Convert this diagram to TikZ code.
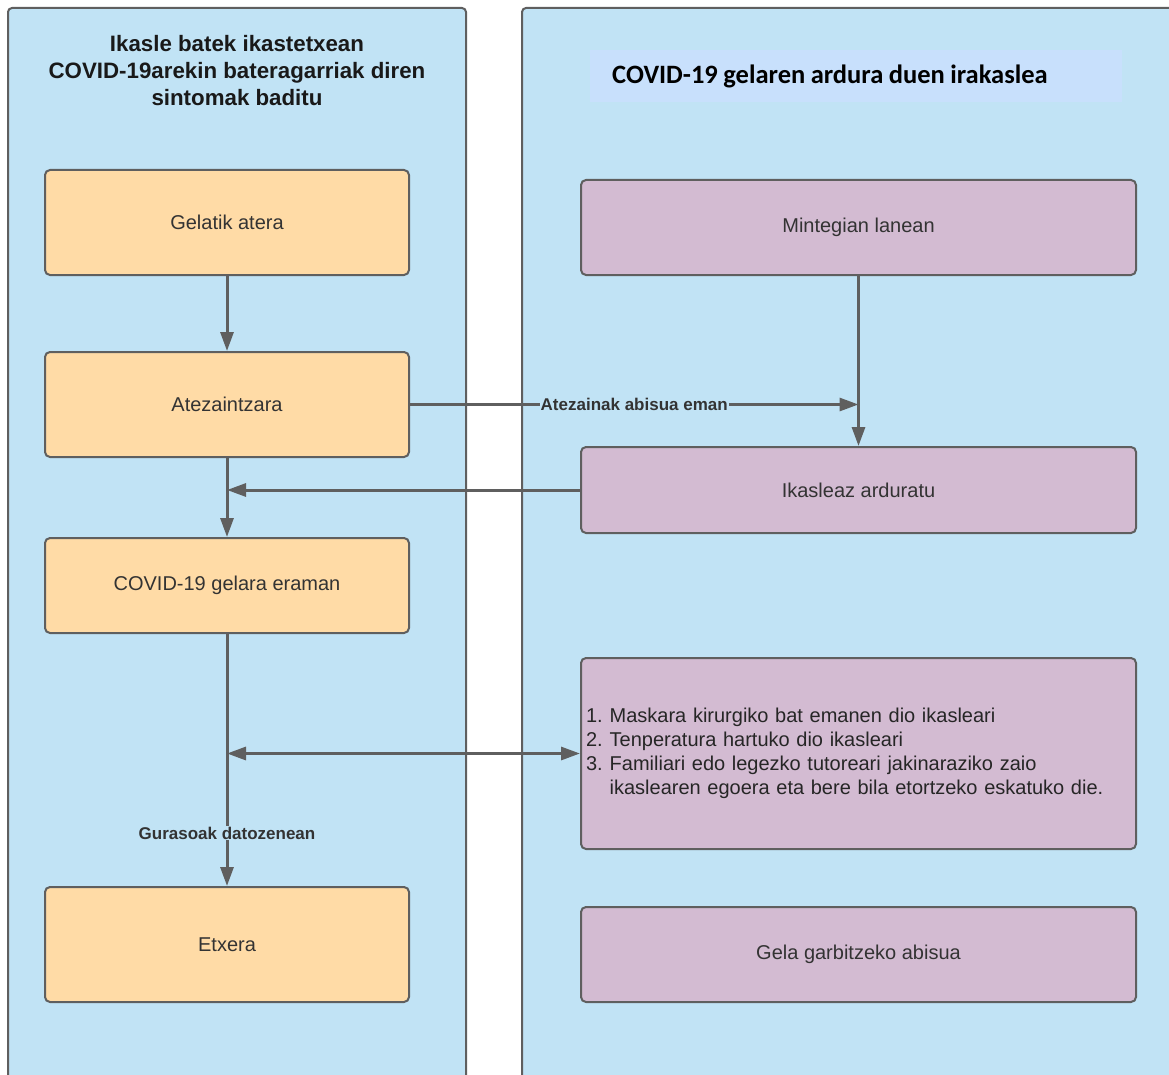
\documentclass[tikz,border=0pt]{standalone}
\usepackage{fontspec}
\setmainfont{Liberation Sans}
\newfontfamily\calibri{Carlito}
\usetikzlibrary{arrows.meta}

\definecolor{lanefill}{RGB}{193,227,245}
\definecolor{headfill}{RGB}{200,224,252}
\definecolor{studentfill}{RGB}{255,219,166}
\definecolor{teacherfill}{RGB}{211,187,210}
\definecolor{linegray}{RGB}{95,95,95}
\definecolor{textgray}{RGB}{51,51,51}

\tikzset{
    lane/.style = {
        draw=linegray,
        line width=2pt,
        fill=lanefill,
        rounded corners=4pt
    },
    student/.style = {
        draw=linegray,
        line width=2pt,
        fill=studentfill,
        rounded corners=5pt,
        minimum width=364pt,
        text=textgray,
        font=\fontsize{20}{24}\selectfont
    },
    teacher/.style = {
        student,
        fill=teacherfill,
        minimum width=555pt
    },
    flow/.style = {
        line width=3pt,
        draw=linegray,
        -{Triangle[length=19pt,width=13pt]}
    },
    note/.style = {
        fill=lanefill,
        text=textgray,
        inner sep=1pt,
        font=\bfseries\fontsize{17}{20}\selectfont
    }
}

\begin{document}
\begin{tikzpicture}[x=1pt, y=-1pt]
    \useasboundingbox (0,0) rectangle (1169,1075);
    \clip (0,0) rectangle (1169,1075);

    % Draw lanes
    \draw[lane] (8,8) rectangle (466,1100);
    \draw[lane] (522,8) rectangle (1200,1100);

    \node[align=center, text=black!90, font=\bfseries\fontsize{22.3}{27}\selectfont] (ikasleTitle) at (237,71)
        {Ikasle batek ikastetxean\\COVID-19arekin bateragarriak diren\\sintomak baditu};
    \node[fill=headfill, minimum height=52pt, text width=488pt, inner xsep=22pt, align=left,
          font=\calibri\bfseries\fontsize{26.5}{30}\selectfont, anchor=west] (irakasleTitle) at (590,76)
        {\spaceskip=5.5pt\relax COVID-19 gelaren ardura duen irakaslea};

    % Draw boxes
    \node[student, minimum height=105pt] (gelatik) at (227,222.5) {Gelatik atera};
    \node[student, minimum height=105pt] (atezain) at (227,404.5) {Atezaintzara};
    \node[student, minimum height=95pt]  (gelara)  at (227,585.5) {COVID-19 gelara eraman};
    \node[student, minimum height=115pt] (etxera)  at (227,944.5) {Etxera};

    \node[teacher, minimum height=95pt]  (mintegi)  at (858.5,227.5) {Mintegian lanean};
    \node[teacher, minimum height=86pt]  (arduratu) at (858.5,490)   {Ikasleaz arduratu};
    \node[teacher, minimum height=191pt, text width=545pt, inner xsep=5pt, align=left, text=black!85] (zerrenda) at (858.5,753.5)
        {\begin{tabular}{@{}l@{\hspace{7pt}}l@{}}
            1. & Maskara kirurgiko bat emanen dio ikasleari\\
            2. & Tenperatura hartuko dio ikasleari\\
            3. & Familiari edo legezko tutoreari jakinaraziko zaio\\
               & ikaslearen egoera eta bere bila etortzeko eskatuko die.
         \end{tabular}};
    \node[teacher, minimum height=95pt]  (garbitu)  at (858.5,954.5) {Gela garbitzeko abisua};

    \coordinate (abisua) at (mintegi.south |- atezain.east);
    \coordinate (itzuli) at (gelatik.south |- arduratu.west);
    \coordinate (elkar)  at (gelatik.south |- zerrenda.west);

    % Draw arrows
    \draw[flow] (gelatik) -- (atezain);
    \draw[flow] (atezain) -- (gelara);
    \draw[flow] (mintegi) -- (arduratu);
    \draw[flow] (atezain.east) -- (abisua) node[note, midway] {Atezainak abisua eman};
    \draw[flow] (arduratu.west) -- (itzuli);
    \draw[flow] (gelara) -- (etxera) node[note, pos=0.79] {Gurasoak datozenean};
    \draw[flow, {Triangle[length=19pt,width=13pt]}-{Triangle[length=19pt,width=13pt]}] (elkar) -- (zerrenda.west);
\end{tikzpicture}
\end{document}
